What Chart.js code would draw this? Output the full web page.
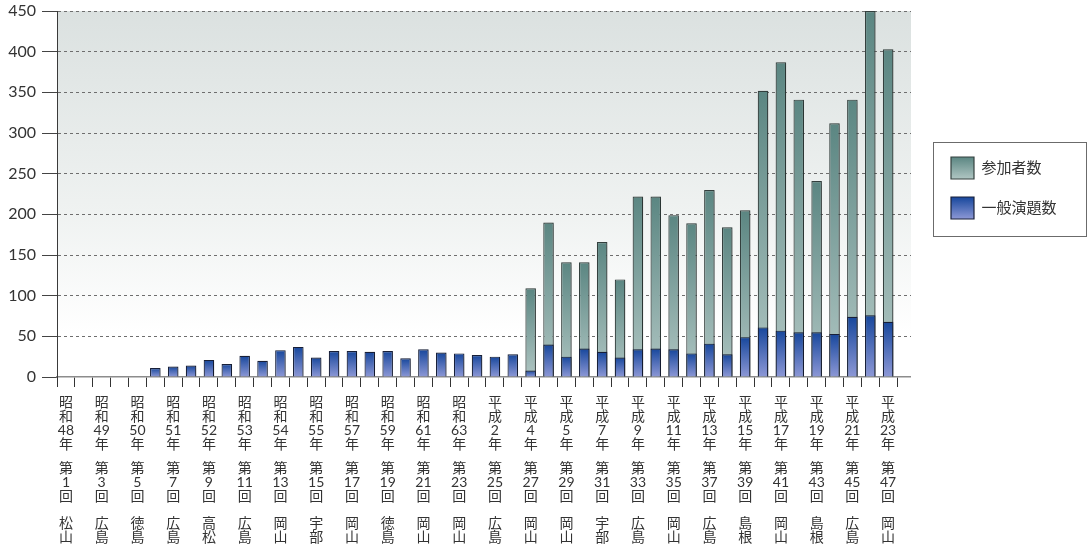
<!DOCTYPE html>
<html lang="ja">
<head>
<meta charset="utf-8">
<script src="https://cdn.jsdelivr.net/npm/chart.js@4.4.1/dist/chart.umd.min.js"></script>
<style>
  html, body { margin: 0; padding: 0; background: #ffffff; }
  #wrap { width: 1090px; height: 549px; }
</style>
</head>
<body>
<div id="wrap"><canvas id="chart" width="1090" height="549"></canvas></div>
<script>
// 大会回次（第1回〜第47回）
const editions = [1, 2, 3, 4, 5, 6, 7, 8, 9, 10, 11, 12, 13, 14, 15, 16, 17, 18, 19, 20,
  21, 22, 23, 24, 25, 26, 27, 28, 29, 30, 31, 32, 33, 34, 35, 36, 37, 38, 39, 40,
  41, 42, 43, 44, 45, 46, 47];

// 参加者数
const participants = [null, null, null, null, null, null, null, null, null, null,
  null, null, null, null, null, null, null, null, null, null,
  null, null, null, null, null, null, 109, 190, 141, 141,
  166, 120, 222, 222, 199, 189, 230, 184, 205, 352,
  387, 341, 241, 312, 341, 450, 403];

// 一般演題数
const presentations = [null, null, null, null, null, 11, 13, 14, 21, 16,
  26, 20, 33, 37, 24, 32, 32, 31, 32, 23,
  34, 30, 29, 27, 25, 28, 8, 40, 25, 35,
  31, 24, 34, 35, 34, 29, 41, 28, 49, 61,
  57, 55, 55, 53, 74, 76, 68];

// 目盛ラベル（奇数回のみ表示）
const labelEditions = [1, 3, 5, 7, 9, 11, 13, 15, 17, 19, 21, 23, 25, 27, 29, 31, 33, 35, 37, 39, 41, 43, 45, 47];
const labelEras = ['昭和', '昭和', '昭和', '昭和', '昭和', '昭和', '昭和', '昭和', '昭和', '昭和', '昭和', '昭和',
  '平成', '平成', '平成', '平成', '平成', '平成', '平成', '平成', '平成', '平成', '平成', '平成'];
const labelYears = [48, 49, 50, 51, 52, 53, 54, 55, 57, 59, 61, 63, 2, 4, 5, 7, 9, 11, 13, 15, 17, 19, 21, 23];
const labelVenues = ['松山', '広島', '徳島', '広島', '高松', '広島', '岡山', '宇部', '岡山', '徳島', '岡山', '岡山',
  '広島', '岡山', '岡山', '宇部', '広島', '岡山', '広島', '島根', '岡山', '島根', '広島', '岡山'];

const yTicks = [0, 50, 100, 150, 200, 250, 300, 350, 400, 450];

const FONT = "'Lato', 'Noto Sans CJK JP', sans-serif";
const TEXT = '#333333';

const greenStyle = { top: '#5b8682', bottom: '#b0c6c3', mid: '#86a6a2', border: '#34413f' };
const blueStyle  = { top: '#17479c', bottom: '#8d98d6', mid: '#4f6cb8', border: '#18203a' };

// 各棒の上端から0までの縦グラデーション
function barFill(style) {
  return (ctx) => {
    const chart = ctx.chart;
    if (!chart.chartArea || ctx.type !== 'data' || !ctx.parsed || ctx.parsed.y == null) return style.mid;
    const ys = chart.scales.y;
    const top = ys.getPixelForValue(ctx.parsed.y);
    const bottom = ys.getPixelForValue(0);
    if (!(bottom > top)) return style.mid;
    const g = chart.ctx.createLinearGradient(0, top, 0, bottom);
    g.addColorStop(0, style.top);
    g.addColorStop(1, style.bottom);
    return g;
  };
}

// プロット領域の背景
const plotBackground = {
  id: 'plotBackground',
  beforeDraw(chart) {
    const { ctx, chartArea: a } = chart;
    const g = ctx.createLinearGradient(0, a.top, 0, a.bottom);
    g.addColorStop(0, '#dbe1e0');
    g.addColorStop(0.55, '#eff2f1');
    g.addColorStop(0.88, '#ffffff');
    ctx.save();
    ctx.fillStyle = g;
    ctx.fillRect(a.left, a.top, a.right - a.left, a.bottom - a.top);
    ctx.restore();
  }
};

// 棒の影
const barShadow = {
  id: 'barShadow',
  beforeDatasetDraw(chart) {
    const c = chart.ctx;
    c.save();
    c.shadowColor = 'rgba(0, 0, 0, 0.22)';
    c.shadowBlur = 4;
    c.shadowOffsetX = 3;
    c.shadowOffsetY = 1;
  },
  afterDatasetDraw(chart) {
    chart.ctx.restore();
  }
};

// 凡例の位置調整・見本のグラデーション・枠線
const legendStyling = {
  id: 'legendStyling',
  afterLayout(chart) {
    const lg = chart.legend;
    lg.top -= 6;
    lg.bottom -= 6;
  },
  beforeDraw(chart) {
    const lg = chart.legend;
    if (!lg || !lg.legendHitBoxes) return;
    lg.legendItems.forEach((item, i) => {
      const hb = lg.legendHitBoxes[i];
      const style = item.datasetIndex === 0 ? greenStyle : blueStyle;
      const g = chart.ctx.createLinearGradient(0, hb.top, 0, hb.top + 22);
      g.addColorStop(0, style.top);
      g.addColorStop(1, style.bottom);
      item.fillStyle = g;
    });
  },
  afterDraw(chart) {
    const lg = chart.legend;
    const hb = lg.legendHitBoxes;
    if (!hb || !hb.length) return;
    const c = chart.ctx;
    const left = Math.round(lg.left) + 0.5;
    const top = Math.round(hb[0].top - 15) + 0.5;
    const bottom = Math.round(hb[hb.length - 1].top + 22 + 17) + 0.5;
    const right = left + 153;
    c.save();
    c.strokeStyle = '#6b6b6b';
    c.lineWidth = 1;
    c.strokeRect(left, top, right - left, bottom - top);
    c.restore();
  }
};

const labelFont = { family: FONT, size: 14, lineHeight: '14px' };
const X_MIN = 0.5;
const X_MAX = 48.28;

// 目盛ラベル用の横軸（行グループごとに1本）
function labelAxis(makeLines, pad, height) {
  return {
    type: 'linear',
    position: 'bottom',
    min: X_MIN,
    max: X_MAX,
    offset: false,
    afterBuildTicks: (s) => { s.ticks = labelEditions.map(v => ({ value: v })); },
    afterFit: (s) => { s.height = height; },
    ticks: {
      autoSkip: false,
      maxRotation: 0,
      minRotation: 0,
      padding: pad,
      font: labelFont,
      color: TEXT,
      callback: (v, i) => makeLines(i)
    },
    grid: { display: false, drawTicks: false, offset: false },
    border: { display: false }
  };
}

new Chart(document.getElementById('chart'), {
  type: 'bar',
  data: {
    labels: editions,
    datasets: [
      {
        label: '参加者数',
        data: participants,
        order: 1,
        grouped: false,
        backgroundColor: barFill(greenStyle),
        borderColor: greenStyle.border,
        borderWidth: 1.2,
        categoryPercentage: 1,
        barPercentage: 0.59
      },
      {
        label: '一般演題数',
        data: presentations,
        order: 0,
        grouped: false,
        backgroundColor: barFill(blueStyle),
        borderColor: blueStyle.border,
        borderWidth: 1.2,
        categoryPercentage: 1,
        barPercentage: 0.59
      }
    ]
  },
  options: {
    responsive: false,
    animation: false,
    devicePixelRatio: 1,
    layout: { padding: { top: 11, right: 23.5, bottom: 0, left: 0 } },
    scales: {
      x: {
        type: 'linear',
        position: 'bottom',
        min: X_MIN,
        max: X_MAX,
        offset: false,
        afterBuildTicks: (s) => {
          s.ticks = editions.map(e => ({ value: e - 0.5 })).concat([{ value: editions[editions.length - 1] + 0.5 }]);
        },
        afterFit: (s) => { s.height = 10; },
        ticks: { display: false },
        grid: { drawOnChartArea: false, offset: false, tickLength: 10, tickColor: '#333333', color: '#333333', tickWidth: 1 },
        border: { color: '#8c8c8c', width: 1.5 }
      },
      xa: labelAxis(i => [labelEras[i][0], labelEras[i][1], String(labelYears[i]), '年'], 8.7, 65),
      xb: labelAxis(i => ['第', String(labelEditions[i]), '回'], 9, 52),
      xc: labelAxis(i => [labelVenues[i][0], labelVenues[i][1]], 12, 45),
      y: {
        position: 'left',
        min: 0,
        max: 450,
        afterBuildTicks: (s) => { s.ticks = yTicks.map(v => ({ value: v })); },
        afterFit: (s) => { s.width = 57; s.paddingTop = 0; s.paddingBottom = 0; },
        ticks: { font: { family: FONT, size: 16 }, color: TEXT, padding: 6 },
        grid: {
          color: (c) => (c.tick && c.tick.value === 0 ? 'rgba(0,0,0,0)' : '#6e6e6e'),
          lineWidth: 1,
          tickLength: 15,
          tickColor: '#444444',
          tickBorderDash: []
        },
        border: { color: '#3a3a3a', width: 1, dash: [3, 3] }
      },
      yr: {
        position: 'right',
        display: true,
        afterFit: (s) => { s.width = 22; s.paddingTop = 0; s.paddingBottom = 0; },
        ticks: { display: false },
        grid: { display: false, drawTicks: false },
        border: { display: false }
      }
    },
    plugins: {
      tooltip: { enabled: false },
      legend: {
        position: 'right',
        align: 'center',
        fullSize: false,
        labels: {
          boxWidth: 23,
          boxHeight: 22,
          padding: 18,
          color: TEXT,
          font: { family: FONT, size: 15 },
          sort: (a, b) => a.datasetIndex - b.datasetIndex
        }
      }
    }
  },
  plugins: [plotBackground, barShadow, legendStyling]
});
</script>
</body>
</html>
